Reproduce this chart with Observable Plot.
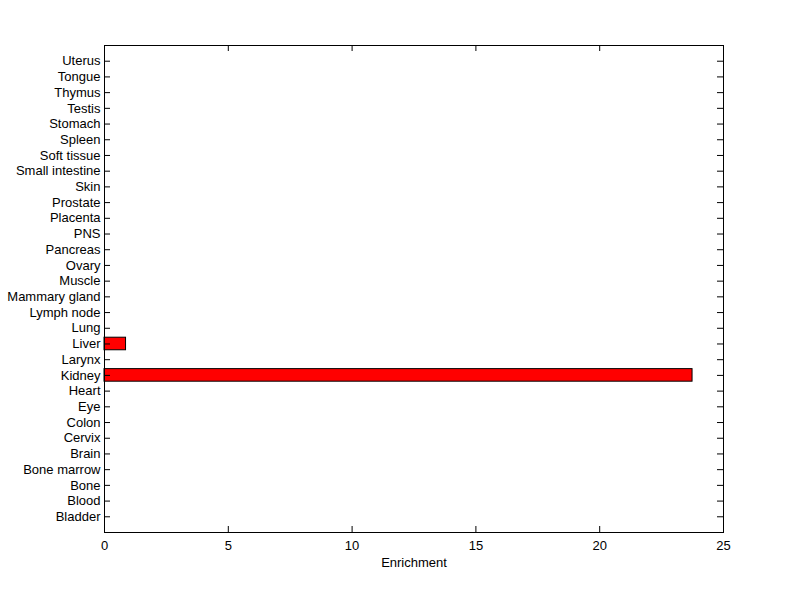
<!DOCTYPE html>
<html>
<head>
<meta charset="utf-8">
<script src="https://cdn.jsdelivr.net/npm/d3@7"></script>
<script src="https://cdn.jsdelivr.net/npm/@observablehq/plot@0.6"></script>
<style>
  html, body { margin: 0; padding: 0; background: #ffffff; }
</style>
</head>
<body>
<div id="chart"></div>
<script>
const tissues = ["Bladder", "Blood", "Bone", "Bone marrow", "Brain", "Cervix", "Colon", "Eye", "Heart", "Kidney", "Larynx", "Liver", "Lung", "Lymph node", "Mammary gland", "Muscle", "Ovary", "Pancreas", "PNS", "Placenta", "Prostate", "Skin", "Small intestine", "Soft tissue", "Spleen", "Stomach", "Testis", "Thymus", "Tongue", "Uterus"];
const enrichment = [0, 0, 0, 0, 0, 0, 0, 0, 0, 23.75, 0, 0.87, 0, 0, 0, 0, 0, 0, 0, 0, 0, 0, 0, 0, 0, 0, 0, 0, 0, 0];
const xTicks = [0, 5, 10, 15, 20, 25];
const xLabel = "Enrichment";

const data = tissues.map((t, i) => ({tissue: t, value: enrichment[i]}));

const W = 800, H = 599;
const mL = 104, mR = 77, mT = 45, mB = 67;
const innerW = W - mL - mR, innerH = H - mT - mB;
const tick = 6;

const chart = Plot.plot({
  width: W,
  height: H,
  marginLeft: mL,
  marginRight: mR,
  marginTop: mT,
  marginBottom: mB,
  style: {fontFamily: "'Liberation Sans', Arial, Helvetica, sans-serif", fontSize: "13px", color: "#000", background: "#fff"},
  x: {domain: [0, 25], ticks: xTicks},
  y: {domain: tissues.slice().reverse(), paddingInner: 0.2, paddingOuter: 0.6, round: false},
  marks: [
    Plot.barX(data, {x: "value", y: "tissue", fill: "#ff0000", stroke: "#000", strokeWidth: 1}),
    Plot.tickY(tissues, {y: d => d, stroke: "#000", insetRight: innerW - tick}),
    Plot.tickY(tissues, {y: d => d, stroke: "#000", insetLeft: innerW - tick}),
    Plot.tickX(xTicks, {x: d => d, stroke: "#000", insetTop: innerH - tick}),
    Plot.tickX(xTicks, {x: d => d, stroke: "#000", insetBottom: innerH - tick}),
    Plot.frame({stroke: "#000"}),
    Plot.axisY({tickSize: 0, tickPadding: 4, label: null, fontSize: 13}),
    Plot.axisX({ticks: xTicks, tickSize: 0, tickPadding: 8, label: null, fontSize: 13}),
    Plot.text([xLabel], {frameAnchor: "bottom", dy: 34, fontSize: 13, fill: "#000"})
  ]
});
document.getElementById("chart").appendChild(chart);
</script>
</body>
</html>
